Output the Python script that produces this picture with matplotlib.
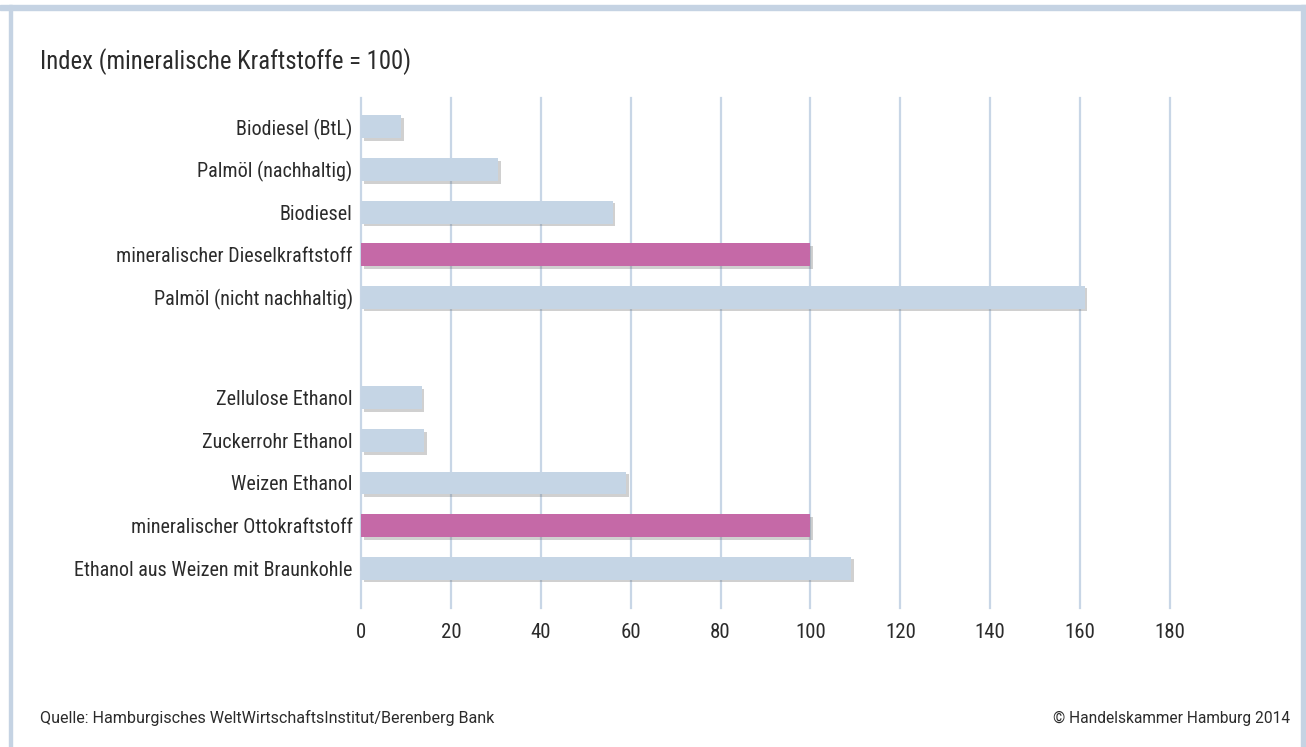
import numpy as np
import matplotlib
matplotlib.use('Agg')
import matplotlib.pyplot as plt
import matplotlib.patheffects as pe
from matplotlib import font_manager
from matplotlib.patches import Rectangle

# schmale Schrift bevorzugen, falls vorhanden
installed = {(f.name, f.stretch) for f in font_manager.fontManager.ttflist}
names = {n for n, _ in installed}
narrow = None
for cand in ['Liberation Sans Narrow', 'Roboto Condensed', 'Open Sans Condensed',
             'Noto Sans Condensed', 'DejaVu Sans Condensed']:
    if cand in names:
        narrow = cand
        break
stretch = 'normal'
if narrow is None:
    condensed = sorted(n for n, s in installed if s in ('condensed', 'semi-condensed', 'extra-condensed'))
    if condensed:
        narrow = condensed[0]
        stretch = 'condensed'
    else:
        narrow = 'DejaVu Sans'
plt.rcParams['font.family'] = [narrow, 'DejaVu Sans']
plt.rcParams['font.stretch'] = stretch

# Dieselgruppe und Ottogruppe (Index, mineralische Kraftstoffe = 100)
diesel_labels = ['Biodiesel (BtL)', 'Palmöl (nachhaltig)', 'Biodiesel',
                 'mineralischer Dieselkraftstoff', 'Palmöl (nicht nachhaltig)']
diesel_values = [9, 30.5, 56, 100, 161]

otto_labels = ['Zellulose Ethanol', 'Zuckerrohr Ethanol', 'Weizen Ethanol',
               'mineralischer Ottokraftstoff', 'Ethanol aus Weizen mit Braunkohle']
otto_values = [13.5, 14, 59, 100, 109]

x_ticks = [0, 20, 40, 60, 80, 100, 120, 140, 160, 180]

light = '#c5d5e5'
pink = '#c569a7'
grid_col = '#c8d6e6'
text_col = '#2b2b2b'

labels = diesel_labels + otto_labels
values = diesel_values + otto_values
# Referenzkraftstoffe hervorheben
colors = [pink if lab.startswith('mineralischer') else light for lab in labels]
gap = 1.37
pos = np.concatenate([np.arange(len(diesel_labels)),
                      np.arange(len(otto_labels)) + len(diesel_labels) + gap])

fig = plt.figure(figsize=(13.06, 7.47), dpi=100)
ax = fig.add_axes([361 / 1306, 1 - 608 / 747, (1170 - 361) / 1306, (608 - 98) / 747])

shadow = [pe.SimplePatchShadow(offset=(2, -2), shadow_rgbFace='#666666', alpha=0.3),
          pe.Normal()]
bars = ax.barh(pos, values, height=0.54, color=colors, zorder=3, clip_on=False)
for b in bars:
    b.set_path_effects(shadow)

ax.set_xlim(0, 180)
ax.set_ylim(pos[-1] + 40 / 42.6, -29 / 42.6)
ax.set_xticks(x_ticks)
ax.set_yticks(pos)
ax.set_yticklabels(labels)
ax.tick_params(axis='both', length=0, labelsize=14.5, colors=text_col)
ax.tick_params(axis='x', pad=11, labelsize=15)
ax.tick_params(axis='y', pad=6)
for s in ax.spines.values():
    s.set_visible(False)
ax.grid(axis='x', color=grid_col, linewidth=1.6, zorder=0)
ax.set_axisbelow(True)
for gl in ax.get_xgridlines():
    gl.set_clip_on(False)

fig.text(40 / 1306, 1 - 62 / 747, 'Index (mineralische Kraftstoffe = 100)',
         fontsize=17.8, color=text_col, va='center', ha='left')
foot_font = ['Roboto', 'DejaVu Sans']
fig.text(40 / 1306, 1 - 718 / 747, 'Quelle: Hamburgisches WeltWirtschaftsInstitut/Berenberg Bank',
         fontsize=11.6, family=foot_font, stretch='normal', color=text_col, va='center', ha='left')
fig.text(1290 / 1306, 1 - 718 / 747, '© Handelskammer Hamburg 2014',
         fontsize=11.2, family=foot_font, stretch='normal', color=text_col, va='center', ha='right')

# Rahmen oben, links und rechts
frame = '#c5d3e3'
fig.patches.append(Rectangle((0, 1 - 10 / 747), 1, 5 / 747, transform=fig.transFigure,
                             color=frame, zorder=0))
fig.patches.append(Rectangle((9 / 1306, 0), 3 / 1306, 1 - 5 / 747, transform=fig.transFigure,
                             color=frame, zorder=0))
fig.patches.append(Rectangle((1301 / 1306, 0), 5 / 1306, 1 - 5 / 747, transform=fig.transFigure,
                             color=frame, zorder=0))

fig.savefig('out.png', dpi=100, facecolor='white')
